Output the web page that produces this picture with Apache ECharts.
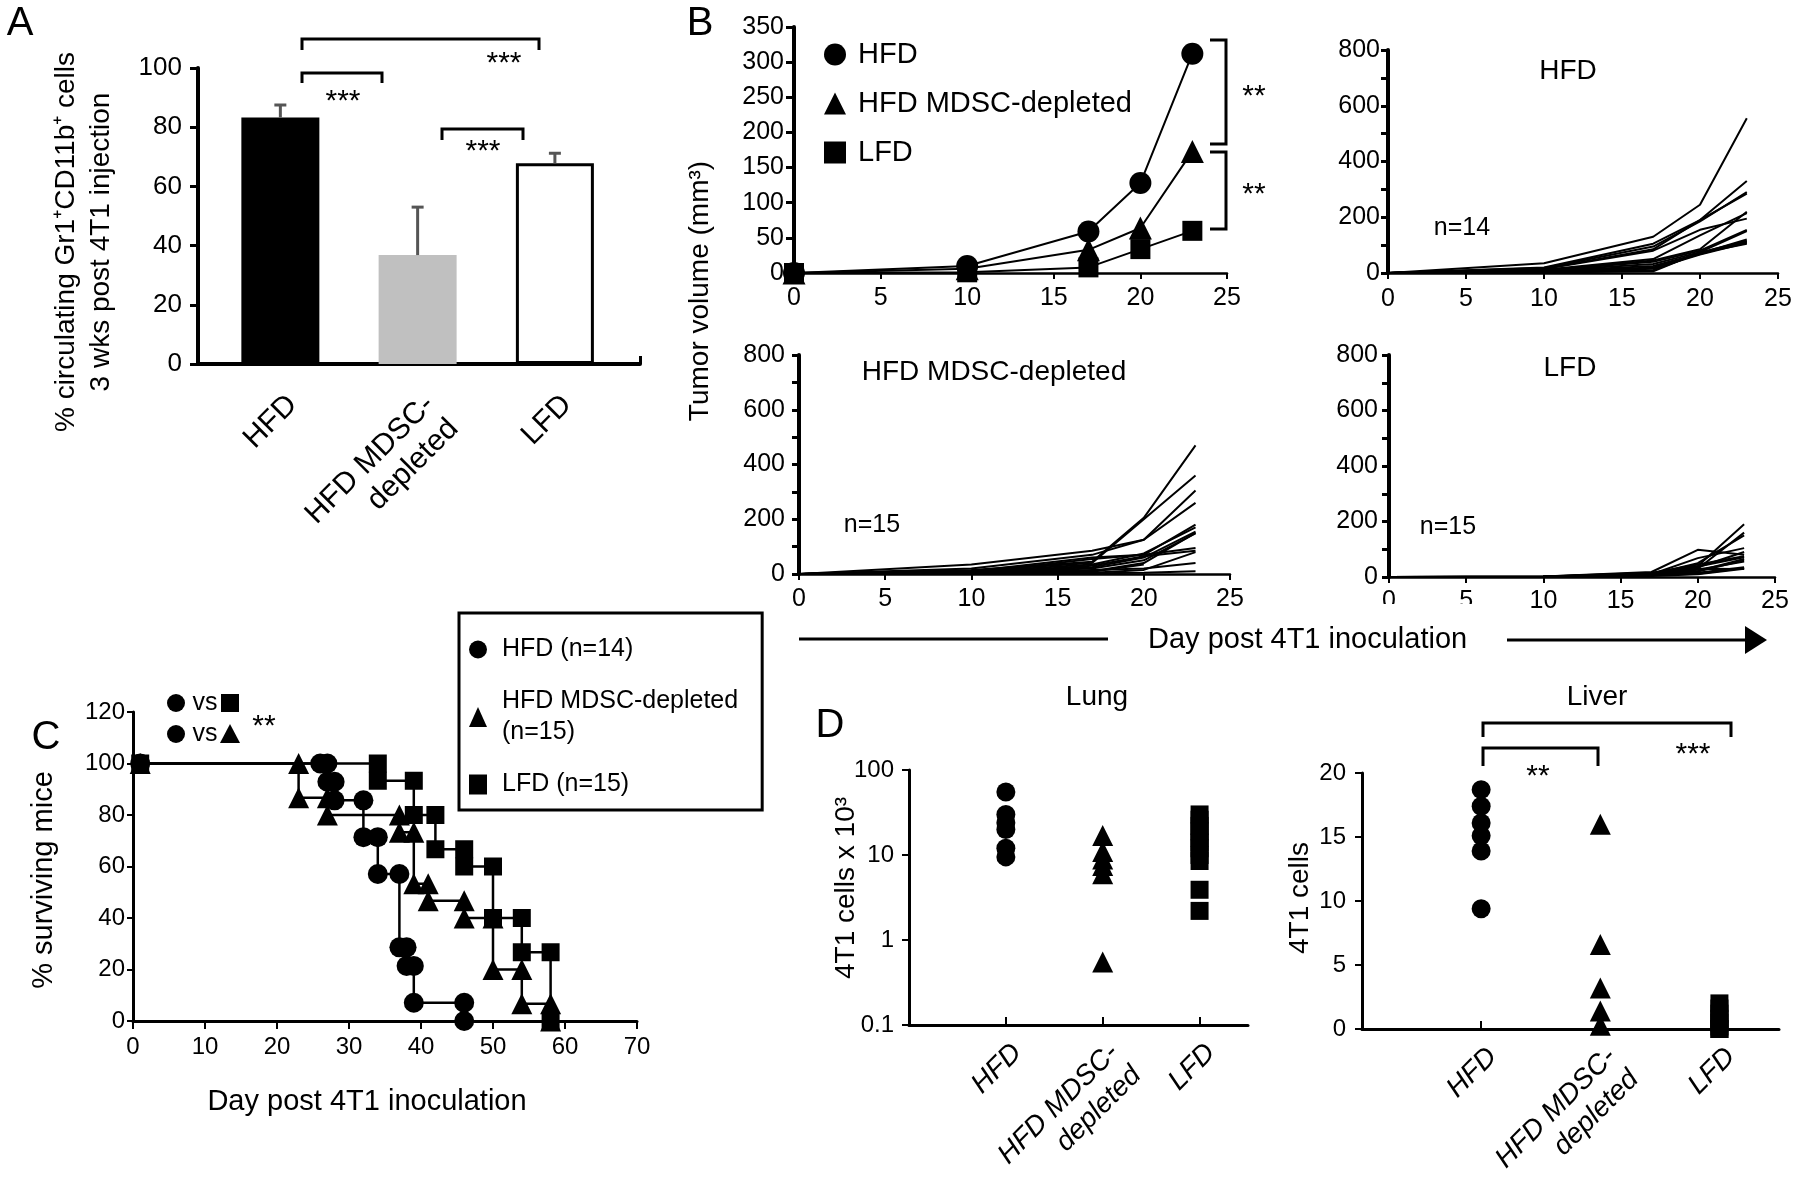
<!DOCTYPE html>
<html><head><meta charset="utf-8">
<script src="https://cdn.jsdelivr.net/npm/echarts@6/dist/echarts.min.js"></script>
<style>html,body{margin:0;padding:0;background:#fff}#c{width:1800px;height:1179px}</style>
</head><body><div id="c"></div>
<script>
const FONT = '"Liberation Sans", Arial, Helvetica, sans-serif';

// ---------- Panel A ----------
const aCategories = ['HFD', 'HFD MDSC-\ndepleted', 'LFD'];
const aMeans = [83.3, 36.8, 67.8];
const aErrors = [4.2, 16.2, 3.4];
const aColors = ['#000000', '#c0c0c0', '#ffffff'];

// ---------- Panel B (mean curves) ----------
const bDays = [0, 10, 17, 20, 23];
const bHFD = [0, 10, 59, 128, 312];
const bMDSC = [0, 6, 33, 64, 173];
const bLFD = [0, 1, 8, 34, 60];
const bLegendNames = ['HFD', 'HFD MDSC-depleted', 'LFD'];

// ---------- Panel B (individual mice) ----------
const bHFDIndividual = [
  [0, 35, 130, 245, 555], [0, 20, 105, 190, 330], [0, 18, 95, 185, 290], [0, 15, 85, 190, 285],
  [0, 14, 80, 155, 195], [0, 12, 50, 135, 215], [0, 10, 45, 85, 220], [0, 9, 40, 80, 155],
  [0, 8, 32, 75, 150], [0, 6, 25, 70, 120], [0, 5, 20, 68, 112], [0, 4, 15, 66, 108],
  [0, 3, 10, 72, 105], [0, 2, 6, 74, 115]
];
const bMDSCIndividual = [
  [0, 15, 45, 205, 470], [0, 12, 40, 200, 360], [0, 35, 85, 125, 305], [0, 20, 70, 125, 260],
  [0, 10, 60, 70, 180], [0, 8, 35, 75, 170], [0, 6, 25, 60, 155], [0, 5, 20, 50, 148],
  [0, 5, 55, 70, 95], [0, 4, 30, 65, 85], [0, 3, 15, 20, 40], [0, 3, 10, 40, 150],
  [0, 2, 8, 35, null], [0, 2, 5, 15, 80], [0, 1, 3, 5, 10]
];
const bLFDIndividual = [
  [0, 2, 15, 40, 190], [0, 2, 12, 30, 160], [0, 2, 10, 50, 150], [0, 2, 18, 98, 80],
  [0, 1, 10, 68, 104], [0, 1, 8, 38, 71], [0, 1, 12, 26, 56], [0, 1, 6, 12, 32],
  [0, 1, 5, 30, 29], [0, 1, 14, 45, 75], [0, 1, 9, 20, 60], [0, 1, 7, 15, 35],
  [0, 1, 11, 35, 90], [0, 1, 4, 10, 30], [0, 1, 6, 22, 65]
];

// ---------- Panel C (survival, step vertices) ----------
const cNames = ['HFD (n=14)', 'HFD MDSC-depleted\n(n=15)', 'LFD (n=15)'];
const cHFD = [[1,100],[26,100],[27,100],[27,92.9],[28,92.9],[28,85.7],[32,85.7],[32,71.4],[34,71.4],[34,57.1],[37,57.1],[37,28.6],[38,28.6],[38,21.4],[39,21.4],[39,7.1],[46,7.1],[46,0]];
const cMDSC = [[1,100],[23,100],[23,86.7],[27,86.7],[27,80],[37,80],[37,73.3],[39,73.3],[39,53.3],[41,53.3],[41,46.7],[46,46.7],[46,40],[50,40],[50,20],[54,20],[54,6.7],[58,6.7],[58,0]];
const cLFD = [[1,100],[34,100],[34,93.3],[39,93.3],[39,80],[42,80],[42,66.7],[46,66.7],[46,60],[50,60],[50,40],[54,40],[54,26.7],[58,26.7],[58,0]];

// ---------- Panel D ----------
const dCategories = ['HFD', 'HFD MDSC-\ndepleted', 'LFD'];
const dLungHFD = [55, 30, 24, 20, 12, 9.5];
const dLungMDSC = [17, 11, 9, 7.5, 6, 0.55];
const dLungLFD = [30, 26, 22, 19, 16, 14, 12, 10, 8.5, 3.9, 2.2];
const dLiverHFD = [18.7, 17.4, 16.1, 15.1, 13.9, 9.4];
const dLiverMDSC = [16, 6.6, 3.2, 1.4, 0.3];
const dLiverLFD = [2, 1.6, 1.2, 0.8, 0.5, 0.2, 0, 0];

function merge(a, b) {
  const out = Array.isArray(a) ? a.slice() : Object.assign({}, a);
  for (const k in b) {
    if (b[k] && typeof b[k] === 'object' && !Array.isArray(b[k]) && a[k] && typeof a[k] === 'object' && !Array.isArray(a[k])) out[k] = merge(a[k], b[k]);
    else out[k] = b[k];
  }
  return out;
}
function ax(i, extra) {
  return merge({
    gridIndex: i, type: 'value', splitLine: {show: false},
    axisLine: {show: true, onZero: false, lineStyle: {color: '#000', width: 3}},
    axisTick: {show: true, length: 7, lineStyle: {color: '#000', width: 2}},
    axisLabel: {color: '#000', fontFamily: FONT, fontSize: 24}
  }, extra || {});
}

const grids = [
  {left: 198, top: 68, width: 442, height: 296},
  {left: 794, top: 27, width: 433, height: 246},
  {left: 1388, top: 50, width: 390, height: 223},
  {left: 799, top: 355, width: 431, height: 219},
  {left: 1389, top: 355, width: 386, height: 222},
  {left: 133, top: 712, width: 504, height: 309},
  {left: 909, top: 770, width: 339, height: 255},
  {left: 1362, top: 773, width: 417, height: 256}
].map(g => Object.assign(g, {containLabel: false, outerBoundsMode: 'none'}));

const catLabel = (cats, size, italic, margin) => ({
  customValues: [0, 1, 2], formatter: v => cats[Math.round(v)] || '',
  rotate: 45, margin: margin, fontSize: size, fontStyle: italic ? 'italic' : 'normal',
  align: 'right', verticalAlign: 'top', lineHeight: size + 4
});

const xAxes = [
  ax(0, {min: -0.6, max: 2.62, axisLine: {lineStyle: {width: 4}}, axisTick: {inside: true, length: 8, customValues: [2.62], lineStyle: {width: 3}}, axisLabel: catLabel(aCategories, 30, false, 24)}),
  ax(1, {min: 0, max: 25, interval: 5, axisLine: {lineStyle: {width: 2.5}}, axisTick: {length: 6}, axisLabel: {fontSize: 25, margin: 13}}),
  ax(2, {min: 0, max: 25, interval: 5, axisLine: {lineStyle: {width: 2.5}}, axisTick: {length: 6}, axisLabel: {fontSize: 25, margin: 14}}),
  ax(3, {min: 0, max: 25, interval: 5, axisLine: {lineStyle: {width: 2.5}}, axisTick: {length: 6}, axisLabel: {fontSize: 25, margin: 13}}),
  ax(4, {min: 0, max: 25, interval: 5, axisLine: {lineStyle: {width: 2.5}}, axisTick: {length: 6}, axisLabel: {fontSize: 25, margin: 12}}),
  ax(5, {min: 0, max: 70, interval: 10, axisTick: {length: 8}, axisLabel: {fontSize: 24, margin: 14}}),
  ax(6, {min: -1, max: 2.5, axisTick: {inside: true, length: 8, customValues: [0, 1, 2]}, axisLabel: catLabel(dCategories, 28, true, 12)}),
  ax(7, {min: -1, max: 2.5, axisTick: {inside: true, length: 8, customValues: [0, 1, 2]}, axisLabel: catLabel(dCategories, 28, true, 12)})
];
const smallY = (i, m) => ax(i, {min: 0, max: 800, interval: 200, axisLine: {lineStyle: {width: 4}}, axisTick: {length: 7, lineStyle: {width: 3}}, minorTick: {show: true, splitNumber: 2, length: 7, lineStyle: {color: '#000', width: 3}}, axisLabel: {fontSize: 25, margin: m}});
const yAxes = [
  ax(0, {min: 0, max: 100, interval: 20, axisLine: {lineStyle: {width: 4}}, axisTick: {length: 8, lineStyle: {width: 3}}, axisLabel: {fontSize: 26, margin: 16}}),
  ax(1, {min: 0, max: 350, interval: 50, axisLine: {lineStyle: {width: 4}}, axisTick: {length: 8, lineStyle: {width: 3}}, axisLabel: {fontSize: 25, margin: 10}}),
  smallY(2, 8), smallY(3, 14), smallY(4, 11),
  ax(5, {min: 0, max: 120, interval: 20, axisTick: {length: 6}, axisLabel: {fontSize: 24, margin: 8}}),
  ax(6, {type: 'log', logBase: 10, min: 0.1, max: 100, axisTick: {length: 7}, axisLabel: {fontSize: 24, margin: 15, formatter: v => String(+v.toPrecision(3))}}),
  ax(7, {min: 0, max: 20, interval: 5, axisTick: {length: 7}, axisLabel: {fontSize: 24, margin: 16}})
];

const series = [];
// A bars
series.push({
  type: 'bar', xAxisIndex: 0, yAxisIndex: 0, barWidth: 78,
  data: aMeans.map((v, i) => ({value: [i, v], itemStyle: {color: aColors[i], borderColor: '#000', borderWidth: i === 2 ? 3 : 0}}))
});
series.push({
  type: 'custom', xAxisIndex: 0, yAxisIndex: 0, z: 5,
  data: aMeans.map((v, i) => [i, v, aErrors[i]]),
  encode: {x: 0, y: 1},
  renderItem: function (params, api) {
    const x = api.value(0), y = api.value(1), e = api.value(2);
    const p0 = api.coord([x, y]), p1 = api.coord([x, y + e]);
    const st = {stroke: '#555', lineWidth: 3};
    return {type: 'group', children: [
      {type: 'line', shape: {x1: p0[0], y1: p0[1], x2: p1[0], y2: p1[1]}, style: st},
      {type: 'line', shape: {x1: p1[0] - 6, y1: p1[1], x2: p1[0] + 6, y2: p1[1]}, style: st}
    ]};
  }
});
// B main curves
[[bHFD, 'circle', 22], [bMDSC, 'triangle', 23], [bLFD, 'rect', 20]].forEach((d, k) => {
  series.push({
    name: bLegendNames[k], type: 'line', xAxisIndex: 1, yAxisIndex: 1, clip: false,
    data: bDays.map((x, i) => [x, d[0][i]]), symbol: d[1], symbolSize: d[2], showSymbol: true,
    lineStyle: {color: '#000', width: 2}, itemStyle: {color: '#000', opacity: 1}, color: '#000', z: 3 + k
  });
});
// B individual lines
[[bHFDIndividual, 2, 'hfd'], [bMDSCIndividual, 3, 'mdsc'], [bLFDIndividual, 4, 'lfd']].forEach(g => {
  g[0].forEach((arr, j) => {
    series.push({
      name: g[2] + '-mouse-' + (j + 1), type: 'line', xAxisIndex: g[1], yAxisIndex: g[1], showSymbol: false,
      data: bDays.map((x, i) => [x, arr[i]]).filter(p => p[1] !== null && p[1] !== undefined),
      lineStyle: {color: '#000', width: 2}, itemStyle: {color: '#000'}, color: '#000', silent: true
    });
  });
});
// C survival
[[cHFD, 'circle', 20], [cMDSC, 'triangle', 21], [cLFD, 'rect', 18]].forEach((d, k) => {
  series.push({
    name: cNames[k], type: 'line', xAxisIndex: 5, yAxisIndex: 5, clip: false,
    data: d[0], symbol: d[1], symbolSize: d[2], showSymbol: true,
    lineStyle: {color: '#000', width: 2.5}, itemStyle: {color: '#000', opacity: 1}, color: '#000', z: 3 + k
  });
});
// D scatter
const dSets = [
  [dLungHFD, 6, 0, 'circle', 19, 'Lung HFD'], [dLungMDSC, 6, 1, 'triangle', 21, 'Lung HFD MDSC-depleted'], [dLungLFD, 6, 2, 'rect', 18, 'Lung LFD'],
  [dLiverHFD, 7, 0, 'circle', 19, 'Liver HFD'], [dLiverMDSC, 7, 1, 'triangle', 21, 'Liver HFD MDSC-depleted'], [dLiverLFD, 7, 2, 'rect', 18, 'Liver LFD']
];
dSets.forEach(s => {
  series.push({
    name: s[5], type: 'scatter', xAxisIndex: s[1], yAxisIndex: s[1], clip: false,
    data: s[0].map(v => [s[2], v]), symbol: s[3], symbolSize: s[4],
    itemStyle: {color: '#000', opacity: 1}, color: '#000'
  });
});

function T(text, x, y, size, extra) {
  return merge({type: 'text', x: x, y: y, z: 10, style: {text: text, fontSize: size, fontFamily: FONT, fill: '#000', align: 'center', verticalAlign: 'middle'}}, extra || {});
}
function PL(points, w) {
  return {type: 'polyline', z: 10, shape: {points: points}, style: {stroke: '#000', lineWidth: w || 3, fill: null}};
}

const graphics = [
  T('A', 20, 24, 40), T('B', 700, 24, 40), T('C', 46, 738, 40), T('D', 830, 726, 40),
  // A
  T('% circulating Gr1\u207ACD11b\u207A cells\n3 wks post 4T1 injection', 84, 242, 28, {rotation: Math.PI / 2, style: {lineHeight: 35}}),
  PL([[302, 83], [302, 73], [382, 73], [382, 83]]),
  PL([[302, 50], [302, 39], [539, 39], [539, 50]]),
  PL([[442, 140], [442, 129], [523, 129], [523, 140]]),
  T('***', 343, 102, 30), T('***', 504, 64, 30), T('***', 483, 152, 30),
  // B
  T('Tumor volume (mm\u00B3)', 700, 291, 28, {rotation: Math.PI / 2}),
  PL([[1210, 40], [1226, 40], [1226, 144], [1210, 144]]),
  PL([[1210, 152], [1226, 152], [1226, 229], [1210, 229]]),
  T('**', 1254, 97, 30), T('**', 1254, 195, 30),
  T('HFD', 1568, 71, 28), T('n=14', 1462, 228, 25),
  T('HFD MDSC-depleted', 994, 372, 28), T('n=15', 872, 525, 25),
  T('LFD', 1570, 368, 28), T('n=15', 1448, 527, 25),
  {type: 'line', z: 10, shape: {x1: 799, y1: 639, x2: 1108, y2: 639}, style: {stroke: '#000', lineWidth: 3}},
  {type: 'rect', z: 9, shape: {x: 1375, y: 604, width: 115, height: 20}, style: {fill: '#fff'}},
  T('Day post 4T1 inoculation', 1148, 640, 29, {style: {align: 'left'}}),
  {type: 'line', z: 10, shape: {x1: 1507, y1: 640, x2: 1750, y2: 640}, style: {stroke: '#000', lineWidth: 3}},
  {type: 'polygon', z: 10, shape: {points: [[1745, 626], [1767, 640], [1745, 654]]}, style: {fill: '#000'}},
  // C
  T('% surviving mice', 44, 880, 29, {rotation: Math.PI / 2}),
  T('Day post 4T1 inoculation', 367, 1102, 29),
  {type: 'circle', z: 10, shape: {cx: 176, cy: 703, r: 9}, style: {fill: '#000'}},
  T('vs', 205, 703, 25),
  {type: 'rect', z: 10, shape: {x: 221, y: 694, width: 18, height: 18}, style: {fill: '#000'}},
  {type: 'circle', z: 10, shape: {cx: 176, cy: 734, r: 9}, style: {fill: '#000'}},
  T('vs', 205, 734, 25),
  {type: 'polygon', z: 10, shape: {points: [[230, 724], [240, 743], [220, 743]]}, style: {fill: '#000'}},
  T('**', 264, 727, 30),
  // D
  T('Lung', 1097, 697, 28), T('Liver', 1597, 697, 28),
  T('4T1 cells x 10\u00B3', 846, 888, 28, {rotation: Math.PI / 2}),
  T('4T1 cells', 1300, 898, 28, {rotation: Math.PI / 2}),
  PL([[1483, 737], [1483, 723], [1731, 723], [1731, 737]]),
  PL([[1483, 766], [1483, 748], [1598, 748], [1598, 766]]),
  T('***', 1693, 755, 30), T('**', 1538, 777, 30)
];

const option = {
  animation: false,
  backgroundColor: '#fff',
  textStyle: {fontFamily: FONT, color: '#000'},
  grid: grids,
  xAxis: xAxes,
  yAxis: yAxes,
  legend: [
    {
      data: [{name: 'HFD', icon: 'circle'}, {name: 'HFD MDSC-depleted', icon: 'triangle'}, {name: 'LFD', icon: 'rect'}],
      orient: 'vertical', left: 824, top: 40, padding: 0, itemWidth: 22, itemHeight: 22, itemGap: 20, selectedMode: false,
      textStyle: {fontSize: 29, lineHeight: 28, color: '#000', fontFamily: FONT, padding: [0, 0, 0, 7]}
    },
    {
      data: [{name: cNames[0], icon: 'circle'}, {name: cNames[1], icon: 'triangle'}, {name: cNames[2], icon: 'rect'}],
      orient: 'vertical', left: 459, top: 613, padding: [21, 24, 10, 10], borderColor: '#000', borderWidth: 3, borderRadius: 0,
      itemWidth: 18, itemHeight: 20, itemGap: 21, selectedMode: false,
      textStyle: {fontSize: 25, lineHeight: 31, color: '#000', fontFamily: FONT, padding: [0, 0, 0, 10]}
    }
  ],
  series: series,
  graphic: graphics
};

const chart = echarts.init(document.getElementById('c'), null, {renderer: 'canvas', width: 1800, height: 1179});
chart.setOption(option);
</script>
</body></html>
